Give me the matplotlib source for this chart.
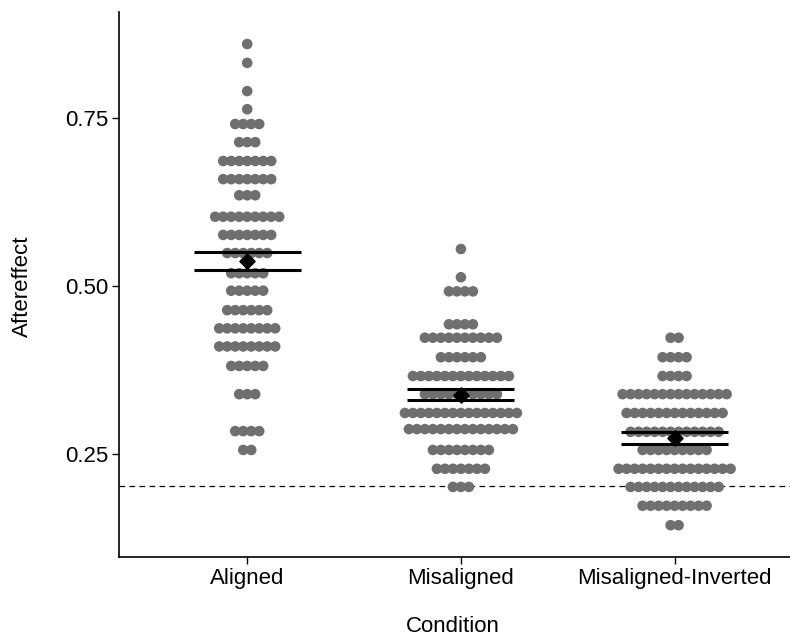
import matplotlib
matplotlib.use("Agg")
import matplotlib.pyplot as plt
import numpy as np

plt.rcParams['font.family'] = ['Liberation Sans', 'DejaVu Sans']

categories = ["Aligned", "Misaligned", "Misaligned-Inverted"]

# binned dot rows: (bin value, number of dots)
aligned_bins = [0.860, 0.832, 0.790, 0.763, 0.741, 0.714, 0.686, 0.659, 0.635, 0.603,
                0.576, 0.549, 0.519, 0.493, 0.464, 0.437, 0.410, 0.381, 0.339, 0.284, 0.256]
aligned_counts = [1, 1, 1, 1, 4, 3, 7, 7, 3, 9, 7, 6, 5, 5, 6, 8, 8, 5, 3, 4, 2]

misaligned_bins = [0.555, 0.513, 0.492, 0.443, 0.423, 0.394, 0.366, 0.339, 0.311, 0.287,
                   0.256, 0.228, 0.201]
misaligned_counts = [1, 1, 4, 4, 10, 6, 13, 10, 15, 14, 8, 7, 3]

inverted_bins = [0.423, 0.394, 0.366, 0.339, 0.311, 0.283, 0.256, 0.228, 0.201, 0.173, 0.144]
inverted_counts = [2, 4, 4, 14, 13, 12, 9, 15, 12, 9, 2]

means = [0.537, 0.338, 0.274]
se_upper = [0.551, 0.347, 0.283]
se_lower = [0.524, 0.330, 0.265]
reference_line = 0.202

W, H = 790, 641
fig = plt.figure(figsize=(W / 100, H / 100), dpi=100)
ax_left, ax_right, ax_top, ax_bottom = 119, 790, 12, 557
ax = fig.add_axes([ax_left / W, (H - ax_bottom) / H, (ax_right - ax_left) / W, (ax_bottom - ax_top) / H])

xlim = (0.4, 3.54)
ax.set_xlim(*xlim)
ax.set_ylim(0.0967, 0.9077)

px_per_unit = (ax_right - ax_left) / (xlim[1] - xlim[0])
dot_step = 8.0 / px_per_unit
dot_color = '#6f6f6f'

groups = [(aligned_bins, aligned_counts), (misaligned_bins, misaligned_counts),
          (inverted_bins, inverted_counts)]
for gi, (bins, counts) in enumerate(groups):
    xs, ys = [], []
    for v, n in zip(bins, counts):
        for i in range(n):
            xs.append(gi + 1 + (i - (n - 1) / 2) * dot_step)
            ys.append(v)
    ax.scatter(xs, ys, s=58, color=dot_color, edgecolors='none', zorder=2)

ax.axhline(reference_line, color='black', linestyle=(0, (4.5, 3.5)), linewidth=0.9, zorder=1)

for gi in range(3):
    x = gi + 1
    ax.hlines([se_upper[gi], se_lower[gi]], x - 0.25, x + 0.25, color='black', linewidth=2.2, zorder=3)
    ax.scatter([x], [means[gi]], marker='D', s=60, color='black', zorder=4)

ax.set_xticks([1, 2, 3])
ax.set_xticklabels(categories)
ax.set_yticks([0.25, 0.50, 0.75])
ax.set_yticklabels(['0.25', '0.50', '0.75'])
ax.tick_params(axis='both', labelsize=16, colors='black', length=5, width=1, direction='out', pad=3)
for sp in ['top', 'right']:
    ax.spines[sp].set_visible(False)
for sp in ['left', 'bottom']:
    ax.spines[sp].set_linewidth(1.2)

fig.text(453 / W, 1 - 627 / H, 'Condition', fontsize=16, ha='center', va='center')
fig.text(22 / W, 1 - 286 / H, 'Aftereffect', fontsize=16, ha='center', va='center', rotation=90)

fig.savefig('out.png', dpi=100)
